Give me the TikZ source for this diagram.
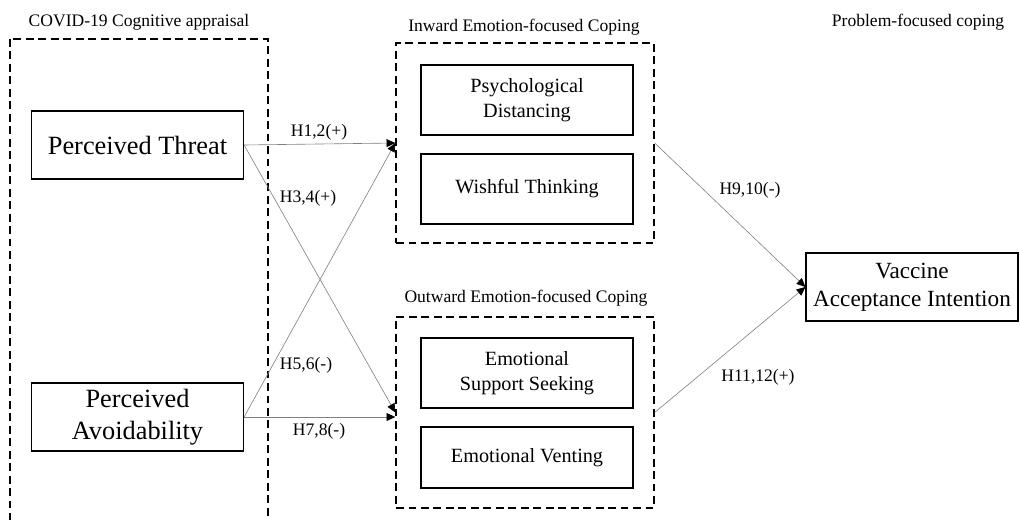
\documentclass[tikz,border=0pt]{standalone}
\usepackage{fontspec}
\setmainfont{Liberation Serif}
\usetikzlibrary{arrows.meta}
\usetikzlibrary{positioning}

\begin{document}
\begin{tikzpicture}[x=0.02cm, y=-0.02cm,
    box/.style={draw, line width=0.7pt, minimum width=4.24cm, align=center, inner sep=0pt},
    group/.style={draw, dash pattern=on 4.5pt off 2.6pt, line width=0.8pt, minimum width=5.16cm},
    grouptitle/.style={font=\fontsize{10}{12}\selectfont},
    hyp/.style={font=\fontsize{10}{12}\selectfont},
    link/.style={draw=gray, line width=0.35pt, -{Triangle[length=5pt, width=4.5pt, black]}}]
            \clip (0,0) rectangle (1020,520);
            \draw[group] (10,39) rectangle (268,560);
            \draw (139,22) node[grouptitle]                                  (tcog) {COVID-19 Cognitive appraisal};
            \draw (524,27) node[grouptitle]                                  (tin) {Inward Emotion-focused Coping};
            \draw (526,298) node[grouptitle]                                 (tout) {Outward Emotion-focused Coping};
            \draw (918,22) node[grouptitle]                                  (tprob) {Problem-focused coping};
            \draw (137.5,145) node[box, minimum height=1.36cm, font=\fontsize{15}{18}\selectfont]   (thr) {Perceived Threat};
            \draw (137.5,417) node[box, minimum height=1.36cm, font=\fontsize{15}{18}\selectfont]   (avd) {Perceived\\Avoidability};
            \draw (525,143) node[group, minimum height=4cm]                  (in) {};
            \draw (525,412.5) node[group, minimum height=3.82cm]             (out) {};
            \draw (527,100) node[box, minimum height=1.4cm, font=\fontsize{11.5}{14}\selectfont]    (psy) {Psychological\\Distancing};
            \draw (527,189) node[box, minimum height=1.4cm, font=\fontsize{11.5}{14}\selectfont]    (wish) {Wishful Thinking};
            \draw (527,373) node[box, minimum height=1.4cm, font=\fontsize{11.5}{14}\selectfont]    (sup) {Emotional\\Support Seeking};
            \draw (527,457.5) node[box, minimum height=1.22cm, font=\fontsize{11.5}{14}\selectfont] (vent) {Emotional Venting};
            \draw (912,287) node[box, minimum height=1.36cm, font=\fontsize{13.2}{16}\selectfont]   (vac) {Vaccine\\Acceptance Intention};
            \draw[link] (thr.east) -- (in.west);
            \draw[link] (thr.east) -- (out.west);
            \draw[link] (avd.east) -- (in.west);
            \draw[link] (avd.east) -- (avd.east -| out.west);
            \draw[link] (in.east) -- (vac.west);
            \draw[link] (out.east) -- (vac.west);
            \draw (319,132) node[hyp]                                        (h12) {H1,2(+)};
            \draw (308,198) node[hyp]                                        (h34) {H3,4(+)};
            \draw (306,365) node[hyp]                                        (h56) {H5,6(-)};
            \draw (319,431) node[hyp]                                        (h78) {H7,8(-)};
            \draw (750,190) node[hyp]                                        (h910) {H9,10(-)};
            \draw (758,377) node[hyp]                                        (h1112) {H11,12(+)};
  
            \end{tikzpicture}
\end{document}
